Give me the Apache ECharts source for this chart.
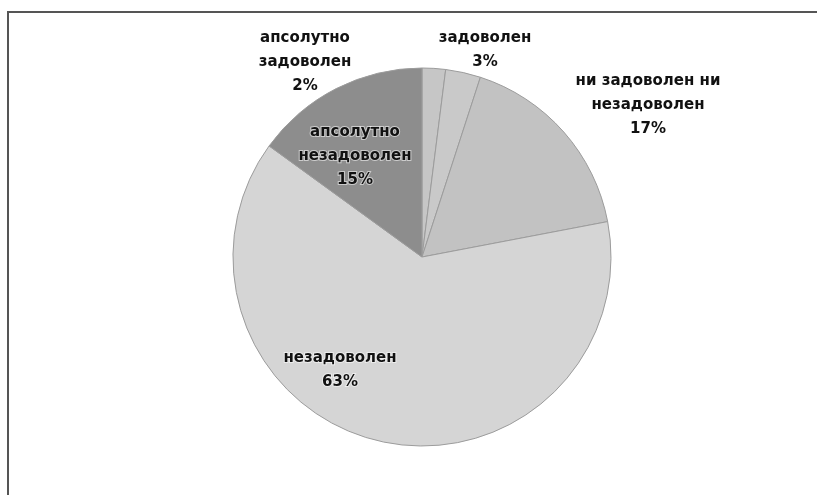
<!DOCTYPE html>
<html>
<head>
<meta charset="utf-8">
<script src="https://cdn.jsdelivr.net/npm/echarts@6/dist/echarts.min.js"></script>
<style>
  html, body { margin: 0; padding: 0; background: #fff; }
  #chart { width: 817px; height: 495px; }
</style>
</head>
<body>
<div id="chart"></div>
<script>
// Satisfaction survey shares (percent)
const categories = [
  'апсолутно задоволен',
  'задоволен',
  'ни задоволен ни незадоволен',
  'незадоволен',
  'апсолутно незадоволен'
];
const shares = [2, 3, 17, 63, 15];

// Slice fills, greyscale
const sliceColors = ['#c6c6c6', '#c9c9c9', '#c2c2c2', '#d5d5d5', '#8d8d8d'];
// Label anchor (centre of each text block)
const labelAnchors = [[305, 62], [485, 50], [648, 105], [340, 370], [355, 156]];

// Greedy word wrap by character count
function wrap(text, maxChars) {
  const words = text.split(' ');
  const lines = [];
  let cur = '';
  words.forEach(w => {
    const next = cur ? cur + ' ' + w : w;
    if (next.length > maxChars && cur) { lines.push(cur); cur = w; }
    else cur = next;
  });
  if (cur) lines.push(cur);
  return lines.join('\n');
}

const chart = echarts.init(document.getElementById('chart'), null, { renderer: 'canvas' });

chart.setOption({
  backgroundColor: '#ffffff',
  animation: false,
  graphic: [{
    type: 'rect',
    shape: { x: 8, y: 12, width: 830, height: 500 },
    style: { fill: 'none', stroke: '#555555', lineWidth: 2 },
    silent: true
  }],
  series: [{
    type: 'pie',
    center: [422, 257],
    radius: 189,
    startAngle: 90,
    clockwise: true,
    avoidLabelOverlap: false,
    itemStyle: { borderColor: '#9c9c9c', borderWidth: 1 },
    label: {
      show: true,
      position: 'outside',
      fontFamily: 'DejaVu Sans',
      fontWeight: 'bold',
      fontSize: 15,
      lineHeight: 24,
      color: '#111111',
      textBorderColor: 'rgba(255,255,255,0.55)',
      textBorderWidth: 2,
      align: 'center',
      formatter: p => wrap(p.name, 15) + '\n' + p.value + '%'
    },
    labelLine: { show: false },
    labelLayout: p => ({
      x: labelAnchors[p.dataIndex][0],
      y: labelAnchors[p.dataIndex][1],
      align: 'center',
      verticalAlign: 'middle'
    }),
    data: categories.map((name, i) => ({
      name: name,
      value: shares[i],
      itemStyle: { color: sliceColors[i] }
    }))
  }]
});
</script>
</body>
</html>
